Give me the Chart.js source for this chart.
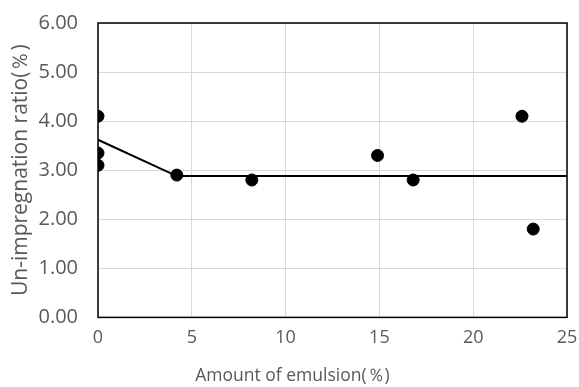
<!DOCTYPE html>
<html>
<head>
<meta charset="utf-8">
<script src="https://cdn.jsdelivr.net/npm/chart.js@4/dist/chart.umd.min.js"></script>
<style>
  html, body { margin: 0; padding: 0; background: #fff; }
  #wrap { width: 579px; height: 387px; }
</style>
</head>
<body>
<div id="wrap"><canvas id="chart" width="579" height="387"></canvas></div>
<script>
// measured points (amount of emulsion %, un-impregnation ratio %)
const emulsionX = [0, 0, 0, 4.2, 8.2, 14.9, 16.8, 22.6, 23.2];
const ratioY = [4.1, 3.35, 3.1, 2.9, 2.8, 3.3, 2.8, 4.1, 1.8];

// fitted line
const fitX = [0, 4.2, 25];
const fitY = [3.62, 2.88, 2.88];

const yTicks = [0, 1, 2, 3, 4, 5, 6];
const xTicks = [0, 5, 10, 15, 20, 25];

const FONT = "'Open Sans', 'Noto Sans', sans-serif";
const GREY = '#595959';

// black frame round the plot area, like the spreadsheet chart
const frame = {
  id: 'frame',
  afterDatasetsDraw(chart) {
    const a = chart.chartArea;
    const ctx = chart.ctx;
    ctx.save();
    ctx.strokeStyle = '#000';
    ctx.lineWidth = 1.5;
    ctx.strokeRect(a.left, a.top, a.right - a.left, a.bottom - a.top);
    ctx.restore();
  }
};

const ctx = document.getElementById('chart').getContext('2d');
new Chart(ctx, {
  type: 'scatter',
  data: {
    datasets: [
      {
        label: 'fit',
        data: fitX.map((x, i) => ({ x: x, y: fitY[i] })),
        showLine: true,
        borderColor: '#000',
        borderWidth: 2,
        pointRadius: 0,
        order: 2
      },
      {
        label: 'data',
        data: emulsionX.map((x, i) => ({ x: x, y: ratioY[i] })),
        backgroundColor: '#000',
        borderColor: '#000',
        pointRadius: 6,
        order: 1
      }
    ]
  },
  options: {
    responsive: false,
    animation: false,
    layout: { padding: { top: 0, right: 2, left: 8, bottom: 0 } },
    plugins: {
      legend: { display: false },
      tooltip: { enabled: false },
      // x axis title sits centred on the whole chart, as in the original
      title: {
        display: true,
        position: 'bottom',
        text: 'Amount of emulsion(％)',
        color: GREY,
        font: { family: FONT, size: 17.5, weight: 'normal' },
        padding: { top: 7, bottom: 0 }
      }
    },
    scales: {
      x: {
        type: 'linear',
        min: 0,
        max: 25,
        afterBuildTicks: (s) => { s.ticks = xTicks.map(v => ({ value: v })); },
        afterFit: (s) => { s.paddingRight = 12; },
        ticks: { color: GREY, font: { family: FONT, size: 18 }, padding: 10 },
        grid: { color: '#d9d9d9', drawTicks: false },
        border: { display: false }
      },
      y: {
        type: 'linear',
        min: 0,
        max: 6,
        afterBuildTicks: (s) => { s.ticks = yTicks.map(v => ({ value: v })); },
        afterFit: (s) => { s.width = 90; s.paddingTop = 23; },
        ticks: {
          color: GREY,
          font: { family: FONT, size: 20 },
          padding: 20,
          callback: (v) => v.toFixed(2)
        },
        grid: { color: '#d9d9d9', drawTicks: false },
        border: { display: false },
        title: {
          display: true,
          text: 'Un-impregnation ratio(％)',
          color: GREY,
          font: { family: FONT, size: 21 },
          padding: { top: 0, bottom: 2 }
        }
      }
    }
  },
  plugins: [frame]
});
</script>
</body>
</html>
